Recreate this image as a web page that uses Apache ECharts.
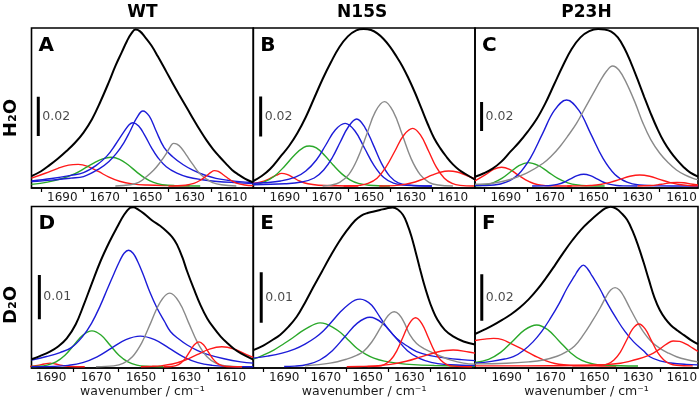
<!DOCTYPE html>
<html>
<head>
<meta charset="utf-8">
<script src="https://cdn.jsdelivr.net/npm/echarts@6/dist/echarts.min.js"></script>
<style>html,body{margin:0;padding:0;background:#fff}#c{width:700px;height:401px}</style>
</head>
<body>
<div id="c"></div>
<script>
// ---------- DATA (wavenumber cm-1, absorbance in units of 0.001) ----------
const columnTitles = ['WT', 'N15S', 'P23H'];
const rowTitles = ['H₂O', 'D₂O'];
const panelLetters = ['A', 'B', 'C', 'D', 'E', 'F'];
const scaleBarValues = [0.02, 0.02, 0.02, 0.01, 0.01, 0.02];
const tickValues = [1620, 1640, 1660, 1680, 1700];
const tickLabelValues = [1610, 1630, 1650, 1670, 1690];
const xAxisName = 'wavenumber / cm⁻¹';

// Panel A (WT, H2O)
const A_black = [[1704.5,5.0],[1700,7.5],[1696,10.6],[1692,14.0],[1688,17.8],[1684,22.0],[1680,27.2],[1676,34.0],[1672,43.0],[1668,53.0],[1665,61.0],[1662,68.0],[1659.5,73.8],[1657.5,77.5],[1655.5,79.6],[1653.5,78.8],[1651,75.8],[1648,71.5],[1645,66.0],[1641,58.2],[1638,52.3],[1635,46.6],[1631,39.2],[1628,33.6],[1625,28.2],[1622,23.2],[1619,18.8],[1616,15.0],[1613,11.5],[1610,8.2],[1607,5.8],[1604,3.8],[1600,1.8]];
const A_red1 = [[1704.5,4.0],[1698,6.5],[1692,9.0],[1687,10.6],[1682.5,11.0],[1678,10.0],[1673,7.4],[1668,4.5],[1663,2.4],[1657,1.1],[1650,0.5],[1640,0.2],[1630,0.1]];
const A_green = [[1704.5,0.8],[1697,2.0],[1690,3.8],[1684,6.3],[1679,9.3],[1675,11.8],[1671,13.8],[1667,14.6],[1663,13.6],[1659,10.8],[1655,7.2],[1651,4.0],[1647,1.8],[1643,0.7],[1637,0.2],[1625,0]];
const A_blue1 = [[1704.5,2.6],[1695,3.8],[1686,5.4],[1680,6.8],[1674,10.5],[1669,15.2],[1665,21.0],[1661,27.5],[1658.5,31.2],[1656.7,32.2],[1654,30.5],[1651,25.5],[1648,19.5],[1645,14.5],[1641,9.8],[1636,6.5],[1631,4.6],[1624,3.2],[1617,2.3],[1608,1.7],[1600,1.3]];
const A_blue2 = [[1704.5,2.2],[1695,3.0],[1686,4.0],[1680,4.8],[1672.3,9.0],[1668,12.5],[1664.5,16.6],[1661,22.0],[1658,28.0],[1655,34.5],[1652,38.2],[1649,35.5],[1646,28.5],[1642,19.5],[1638,14.9],[1633,10.8],[1628.5,8.1],[1623,5.6],[1617.6,3.9],[1612,2.9],[1606.6,2.2],[1600,1.8]];
const A_gray = [[1665,0],[1658,0.6],[1654,1.8],[1650.4,4.7],[1647,8.0],[1644.2,11.6],[1641,16.5],[1639,20.2],[1637.6,21.7],[1636,21.3],[1634,19.5],[1631.6,15.8],[1628.5,11.0],[1625.4,6.5],[1622,3.5],[1619.2,1.7],[1615,0.6],[1608,0]];
const A_red2 = [[1640,0],[1632,0.4],[1628,1.3],[1625,2.9],[1622,5.2],[1620,6.9],[1618.4,7.8],[1616.5,7.4],[1614,5.6],[1611,3.2],[1608,1.5],[1604,0.5],[1600,0.2]];

// Panel B (N15S, H2O)
const B_black = [[1705,2.5],[1701,5.0],[1697,8.5],[1692,14.8],[1688,20.0],[1684,26.5],[1680,34.5],[1676,44.0],[1672,53.5],[1668,62.0],[1664,69.5],[1660,74.8],[1656,77.8],[1652.5,78.5],[1649,78.0],[1646,76.3],[1643,73.5],[1640,69.7],[1637,65.0],[1634,59.8],[1631,53.5],[1628,46.5],[1625,38.8],[1622,31.0],[1619,24.0],[1616,18.8],[1613,14.5],[1610,10.8],[1607,8.0],[1604,6.0],[1599.5,3.2]];
const B_red1 = [[1705,1.3],[1700,2.4],[1697,3.8],[1694,5.4],[1691.5,6.3],[1689,5.8],[1686,4.2],[1683,2.5],[1679,1.1],[1674,0.4],[1665,0.1],[1655,0]];
const B_green = [[1705,0.6],[1700,1.9],[1695,4.9],[1690,10.0],[1685,15.9],[1681,19.3],[1678.3,20.0],[1675,19.1],[1671,15.3],[1667,10.5],[1663,6.2],[1659,3.1],[1655,1.3],[1650,0.4],[1640,0]];
const B_blue1 = [[1705,1.3],[1700,1.6],[1692,2.5],[1685,4.4],[1680,7.5],[1675,13.0],[1670.5,20.5],[1666,28.0],[1661.3,31.3],[1656.7,27.6],[1652.1,19.0],[1647.5,10.2],[1642.9,4.2],[1638.3,1.4],[1632,0.3],[1620,0]];
const B_blue2 = [[1705,0.6],[1690,1.1],[1682,2.0],[1676,4.0],[1671.5,8.0],[1667.5,14.0],[1663.6,22.0],[1659.8,29.5],[1655.8,33.5],[1651.8,29.1],[1648,20.8],[1644,11.3],[1640,4.8],[1636,1.6],[1631,0.5],[1620,0]];
const B_gray = [[1672,0],[1668,0.47],[1663.9,1.85],[1659.6,5.7],[1655.4,13.7],[1651.1,25.6],[1646.9,37.2],[1642.6,42.2],[1638.4,37.2],[1634.1,25.6],[1629.9,13.7],[1625.6,5.7],[1621.4,1.85],[1617.1,0.47],[1610,0]];
const B_red2 = [[1662,0],[1658,0.1],[1654.6,0.3],[1650.4,1.3],[1646.1,3.9],[1641.9,9.4],[1637.6,17.5],[1633.4,25.4],[1629.1,28.8],[1625.4,25.4],[1621.6,17.5],[1617.9,9.4],[1614.1,3.9],[1610.4,1.3],[1606.6,0.3],[1600,0]];
const B_red3 = [[1645,0],[1638,0.2],[1633,0.8],[1628,2.0],[1624,3.6],[1620,5.4],[1616,6.9],[1612,7.5],[1608,7.0],[1604,5.5],[1599.5,3.6]];

// Panel C (P23H, H2O)
const C_black = [[1704,6.4],[1700,8.8],[1696,12.0],[1692,16.8],[1688,23.5],[1684,30.0],[1680,37.5],[1676,46.0],[1672,57.0],[1668,70.0],[1664,83.0],[1660,94.5],[1656,102.5],[1652,106.8],[1648,108.3],[1645,108.0],[1642,106.5],[1639,102.5],[1636,95.0],[1633,85.0],[1630,73.5],[1627,61.5],[1624,50.0],[1621,39.5],[1618,30.5],[1615,23.5],[1612,17.8],[1609,13.0],[1606,9.2],[1602.5,6.5]];
const C_red1 = [[1704,3.5],[1699.2,7.8],[1695.55,11.4],[1691.9,12.9],[1688.25,11.4],[1684.6,7.8],[1680.95,4.2],[1677.3,1.75],[1673.65,0.57],[1670,0.14],[1660,0]];
const C_green = [[1704,0.18],[1699.8,0.7],[1695.8,2.2],[1691.8,5.2],[1687.8,9.8],[1683.8,14.2],[1679.8,16.1],[1675.3,14.2],[1670.8,9.8],[1666.3,5.2],[1661.8,2.2],[1657.3,0.7],[1652.8,0.18],[1645,0]];
const C_blue1 = [[1704,0.3],[1695.3,0.66],[1689.8,2.6],[1684.3,8.0],[1678.8,19.3],[1673.3,36.0],[1667.8,52.3],[1662.3,59.3],[1656.8,52.3],[1651.3,36.0],[1645.8,19.3],[1640.3,8.0],[1634.8,2.6],[1629.3,0.66],[1620,0.1],[1602.5,0]];
const C_blue2 = [[1678,0],[1672.5,0.09],[1669.5,0.35],[1666.5,1.1],[1663.5,2.6],[1660.5,4.9],[1657.5,7.15],[1654.5,8.1],[1651.5,7.15],[1648.5,4.9],[1645.5,2.6],[1642.5,1.1],[1639.5,0.35],[1636.5,0.09],[1630,0]];
const C_gray = [[1704,1.2],[1696,1.9],[1688,4.5],[1680.5,8.8],[1673,15.7],[1669,21.0],[1665.4,27.1],[1661.5,35.0],[1657.8,43.2],[1654,53.5],[1650.2,63.9],[1647,72.5],[1644,79.5],[1641.4,82.8],[1638.5,80.0],[1635,70.8],[1631,57.0],[1627.5,43.2],[1624,32.0],[1619.9,22.6],[1616,16.0],[1612.3,11.0],[1608.5,7.6],[1604.8,5.3],[1602.5,4.4]];
const C_red2 = [[1662,0],[1656,0.08],[1651.5,0.33],[1647,1.0],[1642.5,2.5],[1638,4.6],[1633.5,6.7],[1629,7.6],[1624.5,6.7],[1620,4.6],[1615.5,2.5],[1611,1.0],[1606.5,0.33],[1602.5,0.1]];
const C_red3 = [[1630,0],[1624,0.34],[1621,0.8],[1618,1.5],[1615,2.2],[1612,2.5],[1609,2.2],[1606,1.5],[1602.5,0.7]];

// Panel D (WT, D2O)
const D_black = [[1698.7,1.7],[1695,2.4],[1690.5,3.4],[1687,4.5],[1683,6.4],[1679,9.6],[1675.5,13.9],[1672,18.6],[1668,23.8],[1664,28.2],[1660.5,31.6],[1657.5,34.3],[1655,35.8],[1653.5,36.0],[1651,35.4],[1648.5,34.5],[1645,33.0],[1641.5,31.8],[1638.5,30.5],[1636,29.2],[1634,27.6],[1631.5,24.6],[1629.5,21.6],[1626.5,17.6],[1623.5,13.9],[1620.5,10.9],[1617.5,8.7],[1614.5,6.8],[1611.5,5.3],[1608.5,4.0],[1605.5,3.0],[1600,1.6]];
const D_red0 = [[1700,0.05],[1696,0.3],[1693,0.6],[1690.4,0.8],[1688,0.6],[1685,0.3],[1681,0.05],[1675,0]];
const D_green = [[1698.7,0.05],[1695.8,0.09],[1691.8,0.35],[1687.8,1.1],[1683.8,2.6],[1679.8,4.9],[1675.8,7.15],[1671.8,8.1],[1667.8,7.15],[1663.8,4.9],[1659.8,2.6],[1655.8,1.1],[1651.8,0.35],[1647.8,0.09],[1640,0]];
const D_blue1 = [[1698.7,1.5],[1692,2.3],[1686,3.2],[1681,4.3],[1676,6.8],[1672,9.8],[1668,13.9],[1665,17.5],[1662,21.0],[1659.5,23.8],[1657.5,25.6],[1655.5,26.3],[1653.5,25.6],[1651.5,23.8],[1649,20.8],[1646,16.8],[1642.8,13.2],[1639.5,10.2],[1636.8,7.9],[1633,6.2],[1629.4,4.9],[1625,3.7],[1620.5,2.8],[1613,1.8],[1605.6,1.1],[1600,0.8]];
const D_blue2 = [[1698.7,0.02],[1688.7,0.08],[1682.3,0.3],[1675.9,0.93],[1669.5,2.24],[1663.1,4.2],[1656.7,6.1],[1650.3,6.9],[1643.9,6.1],[1637.5,4.2],[1631.1,2.24],[1624.7,0.93],[1618.3,0.3],[1611.9,0.08],[1600,0]];
const D_gray = [[1670,0],[1662.1,0.18],[1657.95,0.73],[1653.8,2.25],[1649.65,5.39],[1645.5,10.07],[1641.35,14.65],[1637.2,16.6],[1633.05,14.65],[1628.9,10.07],[1624.75,5.39],[1620.6,2.25],[1616.45,0.73],[1612.3,0.18],[1605,0]];
const D_red1 = [[1640,0],[1636.5,0.06],[1634.45,0.25],[1632.4,0.76],[1630.35,1.82],[1628.3,3.4],[1626.25,4.94],[1624.2,5.6],[1622.15,4.94],[1620.1,3.4],[1618.05,1.82],[1616,0.76],[1613.95,0.25],[1611.9,0.06],[1605,0]];
const D_red2 = [[1650,0],[1645,0.1],[1641.5,0.2],[1636,0.61],[1630.5,1.46],[1625,2.73],[1619.5,3.97],[1614,4.5],[1608.5,3.97],[1603,2.73],[1600,2.1]];

// Panel E (N15S, D2O)
const E_black = [[1704.8,3.3],[1700,4.2],[1696,5.2],[1692,6.3],[1688,7.9],[1684,9.9],[1680,12.7],[1676,15.8],[1672,18.8],[1668,21.8],[1664,24.6],[1660,27.0],[1656,29.0],[1653,30.0],[1650,30.5],[1647,30.8],[1644,31.1],[1641,31.4],[1638,31.6],[1635.5,31.2],[1633,30.1],[1631,28.3],[1629,25.9],[1627,22.8],[1625,19.6],[1623,16.5],[1621,13.8],[1619,11.5],[1616.5,9.3],[1613,7.3],[1609,6.0],[1604,5.0],[1598.5,4.4]];
const E_green = [[1704.8,1.5],[1700,2.3],[1695,3.3],[1690,4.6],[1686,5.7],[1682,6.9],[1678,7.9],[1675,8.5],[1672.8,8.7],[1670,8.5],[1667,7.9],[1663,6.8],[1659,5.2],[1655,3.6],[1651,2.5],[1647,1.7],[1642,1.1],[1636,0.7],[1628,0.4],[1618,0.25],[1598.5,0.1]];
const E_blue1 = [[1704.8,1.7],[1698,2.1],[1691,2.7],[1685,3.5],[1680,4.5],[1675,5.8],[1671,7.2],[1667,9.0],[1663,10.9],[1659,12.4],[1656,13.2],[1653.6,13.4],[1651,13.1],[1648,12.2],[1644,9.8],[1640,7.4],[1636,5.6],[1631,4.1],[1626.5,3.0],[1620,2.2],[1612,1.7],[1605,1.4],[1598.5,1.2]];
const E_blue2 = [[1690,0.05],[1684.9,0.11],[1678.9,0.43],[1672.9,1.33],[1666.9,3.18],[1660.9,5.94],[1654.9,8.65],[1648.9,9.8],[1642.9,8.65],[1636.9,5.94],[1630.9,3.18],[1624.9,1.6],[1618.9,0.8],[1612.9,0.45],[1605,0.3],[1598.5,0.25]];
const E_gray = [[1680,0.2],[1668,0.7],[1660,1.5],[1655,2.3],[1652,3.0],[1648,4.9],[1644,7.6],[1641,9.7],[1639,10.6],[1637.2,10.9],[1635,10.4],[1632.5,8.8],[1629.7,6.3],[1626.5,4.6],[1623,3.6],[1620,3.0],[1615,2.1],[1610,1.3],[1604,0.7],[1598.5,0.5]];
const E_red1 = [[1650,0.05],[1645,0.11],[1642,0.43],[1639,1.31],[1636,3.15],[1633,5.88],[1630,8.56],[1627,9.7],[1624,8.56],[1621,5.88],[1618,3.15],[1615,1.31],[1612,0.43],[1609,0.11],[1600,0]];
const E_red2 = [[1660,0],[1654,0.04],[1646.5,0.145],[1639,0.45],[1631.5,1.07],[1624,2.0],[1616.5,2.91],[1609,3.3],[1601.5,2.91],[1598.5,2.7]];

// Panel F (P23H, D2O)
const F_black = [[1704.5,13.8],[1700,15.8],[1696,17.7],[1692,19.9],[1688,22.3],[1684,25.2],[1680,28.7],[1676,33.0],[1672,38.0],[1668,43.4],[1664,49.0],[1660,54.2],[1656,58.8],[1652,62.5],[1648,65.8],[1645,67.9],[1642.5,68.6],[1640,67.8],[1637.5,65.8],[1635,63.0],[1632.5,58.2],[1630,52.0],[1627.5,44.8],[1625,37.0],[1622.5,29.5],[1620,24.0],[1617.5,20.3],[1615,17.6],[1612,15.3],[1609,13.3],[1606,11.3],[1602.6,9.4]];
const F_red1 = [[1704.5,11.0],[1700,11.6],[1696,11.9],[1692,11.4],[1688.5,9.9],[1684,7.8],[1680,5.8],[1676,3.8],[1672,2.2],[1668,1.1],[1664,0.55],[1658,0.2],[1650,0.05],[1640,0]];
const F_green = [[1704.5,1.5],[1698.3,2.9],[1692.8,5.9],[1687.3,10.7],[1681.8,15.6],[1676.3,17.7],[1671.15,15.6],[1666,10.7],[1660.85,5.75],[1655.7,2.4],[1650.55,0.9],[1645.4,0.35],[1638,0.1],[1630,0]];
const F_blue = [[1704.5,1.2],[1697,2.0],[1691,3.0],[1687,4.0],[1682.5,6.6],[1678,10.4],[1674,14.9],[1670,20.6],[1666,27.0],[1662.5,33.4],[1659,38.8],[1657,41.8],[1655,43.5],[1653,41.8],[1651,38.8],[1647.5,33.4],[1644,27.0],[1640,20.6],[1636,14.9],[1632,10.4],[1627.5,6.6],[1624.6,4.0],[1620,2.2],[1615,1.3],[1608,0.7],[1602.6,0.5]];
const F_gray = [[1704.5,0.9],[1690,1.2],[1680,1.8],[1673.3,2.6],[1667,4.2],[1662.6,6.2],[1659,8.6],[1655,13.4],[1651,19.2],[1647.4,24.9],[1644.5,30.0],[1642.5,32.8],[1640.5,33.8],[1638.5,32.8],[1636.5,30.0],[1633.7,24.9],[1630.5,19.3],[1627.6,14.8],[1624,10.6],[1620,7.6],[1616,5.5],[1612.4,4.0],[1608,2.8],[1602.6,1.8]];
const F_red2 = [[1660,0.1],[1650,0.3],[1646.7,0.4],[1643.85,0.9],[1641,2.6],[1638.15,5.9],[1635.3,11.0],[1632.45,16.0],[1629.6,18.1],[1626.75,16.0],[1623.9,11.0],[1621.05,5.9],[1618.2,2.6],[1615.35,0.9],[1612.5,0.3],[1605,0.05]];
const F_red3 = [[1704.5,0.05],[1670,0.1],[1655,0.3],[1645,0.6],[1638,1.2],[1634,2.0],[1630,3.0],[1626,4.3],[1623,5.6],[1620,7.4],[1617,9.4],[1614,10.8],[1611,10.6],[1608,9.4],[1605,7.7],[1602.6,6.3]];

// ---------- CHART ----------
const FONT = '"DejaVu Sans", Verdana, sans-serif';
const COLORS = { k: '#000000', r: '#ff1a1a', g: '#2aa82a', b: '#1c1cd8', y: '#8a8a8a' };

const colGeom = [{ left: 31.5, width: 221.8 }, { left: 253.3, width: 221.7 }, { left: 475, width: 223 }];
const rowGeom = [{ top: 28, height: 160 }, { top: 206.5, height: 161.5 }];

const panels = [
  { row: 0, col: 0, x: [1600, 1704.5], y: [-1.02, 80.4], bar: [1701.3, 25.4],
    curves: [[A_red1,'r'],[A_green,'g'],[A_blue1,'b'],[A_blue2,'b'],[A_gray,'y'],[A_red2,'r'],[A_black,'k']] },
  { row: 0, col: 1, x: [1599.5, 1705], y: [-1, 79], bar: [1701.5, 24.7],
    curves: [[B_red1,'r'],[B_green,'g'],[B_blue1,'b'],[B_blue2,'b'],[B_gray,'y'],[B_red2,'r'],[B_red3,'r'],[B_black,'k']] },
  { row: 0, col: 2, x: [1602.5, 1704], y: [-1.38, 109], bar: [1701, 37.9],
    curves: [[C_red1,'r'],[C_green,'g'],[C_blue1,'b'],[C_blue2,'b'],[C_gray,'y'],[C_red2,'r'],[C_red3,'r'],[C_black,'k']] },
  { row: 1, col: 0, x: [1600, 1698.7], y: [-0.29, 36.16], bar: [1695.2, 10.7],
    curves: [[D_red0,'r'],[D_green,'g'],[D_blue1,'b'],[D_blue2,'b'],[D_gray,'y'],[D_red1,'r'],[D_red2,'r'],[D_black,'k']] },
  { row: 1, col: 1, x: [1598.5, 1704.8], y: [-0.26, 31.79], bar: [1701, 8.73],
    curves: [[E_green,'g'],[E_blue1,'b'],[E_blue2,'b'],[E_gray,'y'],[E_red1,'r'],[E_red2,'r'],[E_black,'k']] },
  { row: 1, col: 2, x: [1602.6, 1704.5], y: [-0.86, 68.75], bar: [1701.4, 19.5],
    curves: [[F_red1,'r'],[F_green,'g'],[F_blue,'b'],[F_gray,'y'],[F_red2,'r'],[F_red3,'r'],[F_black,'k']] }
];

const grid = [], xAxis = [], yAxis = [], series = [], graphic = [];
panels.forEach((p, i) => {
  const cg = colGeom[p.col], rg = rowGeom[p.row];
  grid.push({ left: cg.left, width: cg.width, top: rg.top, height: rg.height,
    outerBoundsMode: 'none', containLabel: false,
    show: true, borderColor: '#000', borderWidth: 1.6, backgroundColor: 'transparent' });
  xAxis.push({
    gridIndex: i, type: 'value', inverse: true, min: p.x[0], max: p.x[1],
    axisLine: { show: true, onZero: false, lineStyle: { color: '#000', width: 1.6 } },
    axisTick: { show: true, inside: false, length: 4, customValues: tickValues, lineStyle: { color: '#000', width: 1.2 } },
    axisLabel: { show: true, customValues: tickLabelValues, formatter: v => String(v), margin: 4,
      fontSize: 12, fontFamily: FONT, color: '#1a1a1a' },
    splitLine: { show: false },
    name: p.row === 1 ? xAxisName : '', nameLocation: 'middle', nameGap: 17,
    nameTextStyle: { fontSize: 12.5, fontFamily: FONT, color: '#1a1a1a' }
  });
  yAxis.push({ gridIndex: i, type: 'value', min: p.y[0], max: p.y[1], show: false });
  p.curves.forEach(([data, c]) => {
    series.push({
      type: 'line', xAxisIndex: i, yAxisIndex: i, data: data, smooth: 0.4,
      symbol: 'none', silent: true, clip: true,
      lineStyle: { color: COLORS[c], width: c === 'k' ? 2 : 1.4 }
    });
  });
  const v = scaleBarValues[i];
  const len = v * 1000;
  series.push({
    type: 'line', xAxisIndex: i, yAxisIndex: i, symbol: 'none', silent: true,
    data: [[p.bar[0], p.bar[1]], [p.bar[0], p.bar[1] + len]],
    lineStyle: { color: '#000', width: 3, cap: 'butt' }
  });
  series.push({
    type: 'scatter', xAxisIndex: i, yAxisIndex: i, symbolSize: 0, silent: true,
    data: [[p.bar[0], p.bar[1] + len / 2]],
    label: { show: true, position: 'right', distance: 4, formatter: String(v),
      fontSize: 12.5, fontFamily: FONT, color: '#1a1a1a' }
  });
  graphic.push({ type: 'text', x: cg.left + 7, y: rg.top + 17.5,
    style: { text: panelLetters[i], font: 'bold 20px ' + FONT, fill: '#000', textAlign: 'left', textVerticalAlign: 'middle' } });
});
columnTitles.forEach((t, c) => {
  graphic.push({ type: 'text', x: colGeom[c].left + colGeom[c].width / 2 + (c === 1 ? -2 : 0), y: 13,
    style: { text: t, font: 'bold 17px ' + FONT, fill: '#000', textAlign: 'center', textVerticalAlign: 'middle' } });
});
rowTitles.forEach((t, r) => {
  graphic.push({ type: 'text', x: 11, y: r === 0 ? 118 : 305, rotation: Math.PI / 2,
    style: { text: t, font: 'bold 18px ' + FONT, fill: '#000', textAlign: 'center', textVerticalAlign: 'middle' } });
});

const chart = echarts.init(document.getElementById('c'), null, { renderer: 'canvas' });
chart.setOption({ animation: false, backgroundColor: '#fff', grid, xAxis, yAxis, series, graphic });
</script>
</body>
</html>
